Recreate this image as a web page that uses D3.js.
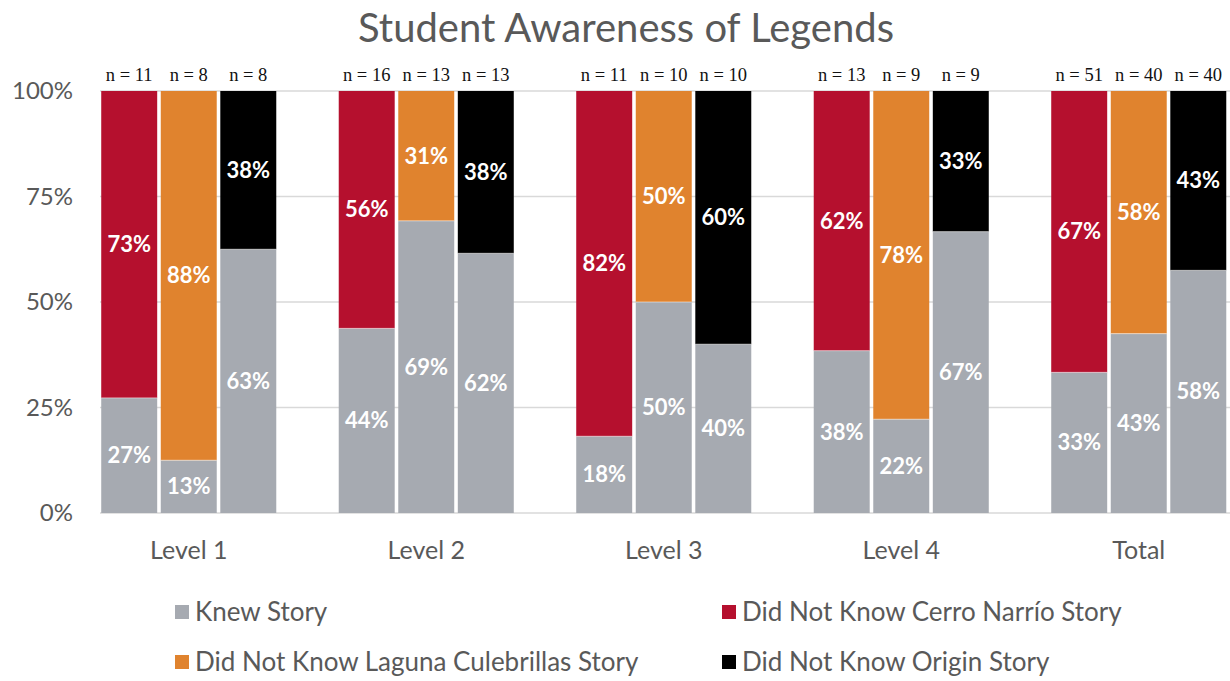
<!DOCTYPE html>
<html>
<head>
<meta charset="utf-8">
<script src="https://cdn.jsdelivr.net/npm/d3@7"></script>
<style>
  body { margin: 0; background: #fff; }
  svg { display: block; }
</style>
</head>
<body>
<svg></svg>
<script>
const width = 1230;
const height = 681;

const levels = ["Level 1", "Level 2", "Level 3", "Level 4", "Total"];
const stories = ["cerro", "laguna", "origin"];
const storyColors = { cerro: "#B5102E", laguna: "#E0832E", origin: "#000000" };
const knewColor = "#A6AAB1";

// % who knew each story, per level
const knewCerro = [27.27, 43.75, 18.18, 38.46, 33.33];
const knewLaguna = [12.5, 69.23, 50, 22.22, 42.5];
const knewOrigin = [62.5, 61.54, 40, 66.67, 57.5];
// respondents
const nCerro = [11, 16, 11, 13, 51];
const nLaguna = [8, 13, 10, 9, 40];
const nOrigin = [8, 13, 10, 9, 40];

const yTicks = [0, 25, 50, 75, 100];

const legendItems = [
  { label: "Knew Story", color: knewColor },
  { label: "Did Not Know Cerro Narrío Story", color: storyColors.cerro },
  { label: "Did Not Know Laguna Culebrillas Story", color: storyColors.laguna },
  { label: "Did Not Know Origin Story", color: storyColors.origin },
];

const knew = { cerro: knewCerro, laguna: knewLaguna, origin: knewOrigin };
const ns = { cerro: nCerro, laguna: nLaguna, origin: nOrigin };

const rows = [];
levels.forEach((lvl, i) => {
  stories.forEach((s) => {
    rows.push({ level: lvl, story: s, knew: knew[s][i], notKnew: 100 - knew[s][i], n: ns[s][i] });
  });
});

const svg = d3.select("svg").attr("width", width).attr("height", height);

const textGray = "#595959";
const sans = "Lato, 'Open Sans', sans-serif";

const x0 = d3.scaleBand().domain(levels).range([70, 1257.5]).paddingInner(0.263).paddingOuter(0.1315);
const x1 = d3.scaleBand().domain(stories).range([0, x0.bandwidth()]).paddingInner(0.06);
const y = d3.scaleLinear().domain([0, 100]).range([513, 91]);

// gridlines
svg.append("g")
  .selectAll("line")
  .data(yTicks)
  .join("line")
  .attr("x1", 100)
  .attr("x2", width)
  .attr("y1", (d) => y(d))
  .attr("y2", (d) => y(d))
  .attr("stroke", "#D9D9D9")
  .attr("stroke-width", 1.5);

// y axis labels
svg.append("g")
  .selectAll("text")
  .data(yTicks)
  .join("text")
  .attr("x", 73)
  .attr("y", (d) => y(d))
  .attr("dy", "0.35em")
  .attr("text-anchor", "end")
  .attr("font-family", sans)
  .attr("font-size", 24)
  .attr("fill", textGray)
  .text((d) => d + "%");

const bars = svg.append("g");

const groups = bars.selectAll("g")
  .data(rows)
  .join("g")
  .attr("transform", (d) => `translate(${x0(d.level) + x1(d.story)},0)`);

// knew segment
groups.append("rect")
  .attr("x", 0)
  .attr("width", x1.bandwidth())
  .attr("y", (d) => y(d.knew))
  .attr("height", (d) => y(0) - y(d.knew))
  .attr("fill", knewColor);

// did not know segment
groups.append("rect")
  .attr("x", 0)
  .attr("width", x1.bandwidth())
  .attr("y", y(100))
  .attr("height", (d) => y(d.knew) - y(100))
  .attr("fill", (d) => storyColors[d.story]);

// white separators between stacked segments
groups.append("line")
  .attr("x1", 0)
  .attr("x2", x1.bandwidth())
  .attr("y1", (d) => y(d.knew))
  .attr("y2", (d) => y(d.knew))
  .attr("stroke", "#fff")
  .attr("stroke-opacity", 0.5)
  .attr("stroke-width", 1);

const labelStyle = (sel) => sel
  .attr("x", x1.bandwidth() / 2)
  .attr("text-anchor", "middle")
  .attr("dy", "0.35em")
  .attr("font-family", sans)
  .attr("font-weight", "bold")
  .attr("font-size", 22)
  .attr("fill", "#fff");

groups.append("text")
  .call(labelStyle)
  .attr("y", (d) => (y(0) + y(d.knew)) / 2)
  .text((d) => Math.round(d.knew) + "%");

groups.append("text")
  .call(labelStyle)
  .attr("y", (d) => (y(d.knew) + y(100)) / 2)
  .text((d) => Math.round(d.notKnew) + "%");

// n labels
groups.append("text")
  .attr("x", x1.bandwidth() / 2)
  .attr("y", y(100) - 10)
  .attr("text-anchor", "middle")
  .attr("font-family", "'Liberation Serif', serif")
  .attr("font-size", 18.5)
  .attr("fill", "#111")
  .text((d) => "n = " + d.n);

// x labels
svg.append("g")
  .selectAll("text")
  .data(levels)
  .join("text")
  .attr("x", (d) => x0(d) + x0.bandwidth() / 2)
  .attr("y", 550)
  .attr("dy", "0.35em")
  .attr("text-anchor", "middle")
  .attr("font-family", sans)
  .attr("font-size", 25)
  .attr("fill", textGray)
  .text((d) => d);

// title
svg.append("text")
  .attr("x", 626)
  .attr("y", 28)
  .attr("dy", "0.35em")
  .attr("text-anchor", "middle")
  .attr("font-family", sans)
  .attr("font-size", 40)
  .attr("fill", textGray)
  .text("Student Awareness of Legends");

// legend
const legendPos = [[175, 612], [722, 612], [175, 662], [722, 662]];
const legend = svg.append("g")
  .selectAll("g")
  .data(legendItems)
  .join("g")
  .attr("transform", (d, i) => `translate(${legendPos[i][0]},${legendPos[i][1]})`);

legend.append("rect")
  .attr("x", 0)
  .attr("y", -7)
  .attr("width", 14)
  .attr("height", 14)
  .attr("fill", (d) => d.color);

legend.append("text")
  .attr("x", 20)
  .attr("dy", "0.35em")
  .attr("font-family", sans)
  .attr("font-size", 26)
  .attr("fill", textGray)
  .text((d) => d.label);
</script>
</body>
</html>
